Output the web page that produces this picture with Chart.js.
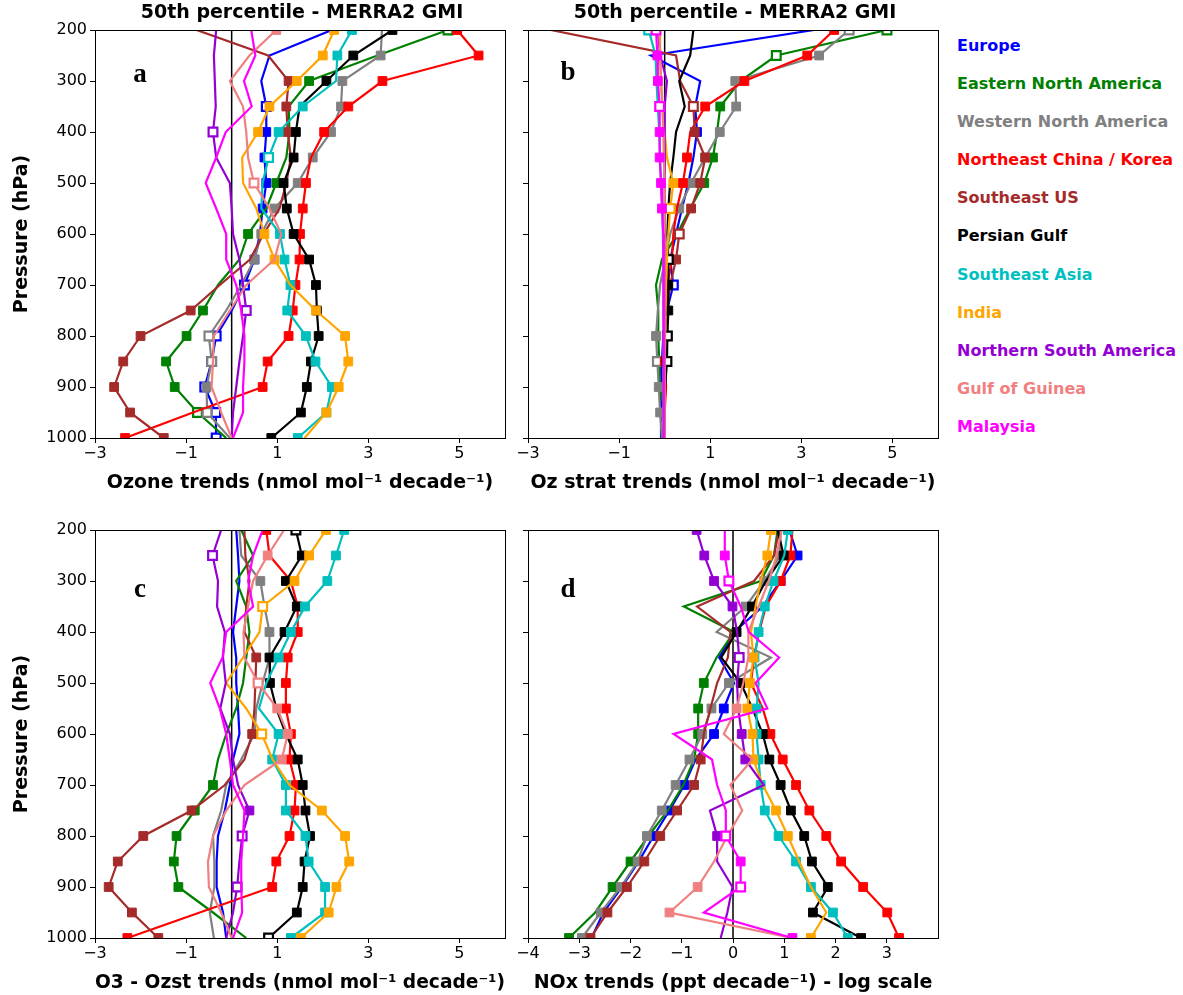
<!DOCTYPE html>
<html>
<head>
<meta charset="utf-8">
<script src="https://cdn.jsdelivr.net/npm/chart.js@4.4.0/dist/chart.umd.min.js"></script>
<style>
  body { margin: 0; background: #fff; }
  #wrap { position: relative; width: 1183px; height: 995px; }
  #wrap canvas { position: absolute; }
  #legend { position: absolute; left: 957px; top: 35px; font: bold 16px "DejaVu Sans", sans-serif; }
  #legend div { height: 38.1px; line-height: 22px; white-space: nowrap; }
</style>
</head>
<body>
<div id="wrap">
  <canvas id="chartA" width="520" height="495" style="left:0px;top:0px"></canvas>
  <canvas id="chartB" width="520" height="495" style="left:433px;top:0px"></canvas>
  <canvas id="chartC" width="520" height="495" style="left:0px;top:500px"></canvas>
  <canvas id="chartD" width="520" height="495" style="left:433px;top:500px"></canvas>
  <div id="legend"></div>
</div>
<script>
// pressure levels (hPa) and axis ticks
const pressureLevels = [200, 250, 300, 350, 400, 450, 500, 550, 600, 650, 700, 750, 800, 850, 900, 950, 1000];
const pressureTicks = [200, 300, 400, 500, 600, 700, 800, 900, 1000];
const trendTicks = [-3, -1, 1, 3, 5];
const noxTicks = [-4, -3, -2, -1, 0, 1, 2, 3];

const regionNames = [
  "Europe", "Eastern North America", "Western North America", "Northeast China / Korea",
  "Southeast US", "Persian Gulf", "Southeast Asia", "India",
  "Northern South America", "Gulf of Guinea", "Malaysia",
];
const regionColors = [
  "#0000ff", "#008000", "#808080", "#ff0000", "#a52a2a", "#000000",
  "#00bfbf", "#ffa500", "#9400d3", "#f08080", "#ff00ff",
];

// rows follow regionNames; marker codes: f = filled square, o = open square, . = none

// (a) ozone trends, nmol/mol per decade
const ozoneTrends = [
  [2.2, 0.83, 0.65, 0.76, 0.76, 0.72, 0.76, 0.68, 0.62, 0.5, 0.28, 0.0, -0.34, -0.44, -0.59, -0.35, -0.34],
  [4.75, 3.2, 1.7, 1.25, 1.27, 1.2, 0.98, 0.76, 0.36, 0.17, -0.3, -0.63, -0.99, -1.44, -1.25, -0.75, -0.12],
  [3.3, 3.27, 2.43, 2.4, 2.18, 1.78, 1.45, 0.94, 0.65, 0.5, 0.21, -0.12, -0.5, -0.44, -0.55, -0.54, -0.04],
  [4.95, 5.42, 3.31, 2.56, 2.03, 1.74, 1.63, 1.56, 1.5, 1.49, 1.4, 1.34, 1.25, 0.79, 0.68, -0.85, -2.34],
  [-0.77, 0.8, 1.25, 1.2, 1.23, 1.3, 1.2, 1.05, 0.7, 0.4, -0.26, -0.9, -2.0, -2.38, -2.58, -2.23, -1.49],
  [3.53, 2.67, 2.08, 1.49, 1.41, 1.36, 1.14, 1.21, 1.36, 1.7, 1.85, 1.87, 1.91, 1.74, 1.65, 1.52, 0.87],
  [2.64, 2.32, 2.29, 1.56, 1.03, 0.81, 0.68, 0.65, 1.06, 1.16, 1.29, 1.22, 1.63, 1.84, 2.2, 2.08, 1.45],
  [2.25, 2.0, 1.43, 0.83, 0.58, 0.23, 0.25, 0.54, 0.72, 0.94, 1.29, 1.85, 2.49, 2.56, 2.35, 2.08, 1.6],
  [-0.34, -0.39, -0.37, -0.35, -0.41, -0.34, -0.04, 0.0, 0.03, 0.17, 0.25, 0.32, 0.25, 0.17, 0.1, 0.03, 0.0],
  [0.98, 0.39, -0.04, 0.25, 0.32, 0.36, 0.49, 0.83, 1.09, 0.94, 0.32, -0.04, -0.39, -0.41, -0.44, -0.23, 0.0],
  [0.43, 0.52, 0.27, 0.44, -0.13, -0.34, -0.57, -0.34, -0.12, -0.12, 0.1, 0.21, 0.28, 0.28, 0.25, 0.25, 0.03],
];
const ozoneMarks = [
  "...offff.fo.ooooo", "o.f...f.f..ffffo.", ".fffffffff..oofo.", "fffff.fffffffff.f",
  "..fff......ffffff", "fff.fffffffffffff", "ff.ffo..fffffffff", "fffff...ff.fffff.",
  "....o......o.....", "f.....o..........", ".................",
];

// (b) stratospheric ozone tracer trends
const stratTrends = [
  [3.28, -0.3, 0.78, 0.67, 0.71, 0.63, 0.52, 0.38, 0.25, 0.12, 0.19, 0.05, -0.03, -0.06, -0.08, -0.08, -0.08],
  [4.88, 2.45, 1.66, 1.22, 1.15, 1.06, 0.87, 0.56, 0.27, -0.06, -0.19, -0.14, -0.14, -0.12, -0.1, 0.0, -0.03],
  [4.05, 3.39, 1.55, 1.57, 1.21, 0.89, 0.58, 0.32, 0.12, 0.01, -0.1, -0.15, -0.19, -0.16, -0.13, -0.1, -0.06],
  [3.72, 3.13, 1.75, 0.89, 0.56, 0.49, 0.4, 0.27, 0.19, 0.16, 0.06, 0.02, 0.0, 0.0, 0.03, 0.0, -0.02],
  [-2.5, 0.25, 0.34, 0.63, 0.66, 0.89, 0.78, 0.58, 0.32, 0.25, 0.12, 0.05, 0.0, -0.02, -0.02, -0.02, -0.02],
  [0.63, 0.56, 0.32, 0.44, 0.25, 0.19, 0.12, 0.08, 0.06, 0.08, 0.08, 0.08, 0.06, 0.05, 0.01, 0.0, 0.0],
  [-0.35, -0.2, -0.18, -0.15, -0.12, -0.1, -0.08, -0.05, -0.04, -0.03, -0.02, -0.02, -0.02, -0.02, -0.02, -0.02, -0.02],
  [-0.1, -0.1, -0.08, -0.05, 0.0, 0.05, 0.19, 0.12, 0.08, 0.05, 0.03, 0.02, 0.01, 0.0, 0.0, 0.0, 0.0],
  [-0.15, -0.1, 0.05, 0.0, 0.0, 0.0, 0.0, 0.0, 0.0, 0.0, 0.0, 0.0, 0.0, 0.0, 0.0, 0.0, 0.0],
  [-0.12, -0.1, -0.08, -0.05, -0.03, -0.02, 0.0, 0.0, 0.0, 0.0, 0.0, 0.0, 0.0, 0.0, 0.0, 0.0, 0.0],
  [-0.19, -0.16, -0.15, -0.11, -0.11, -0.11, -0.08, -0.06, -0.03, -0.02, -0.02, -0.02, -0.02, -0.02, -0.02, -0.02, -0.02],
];
const stratMarks = [
  "....f.....o......", "oo.f.ff......f...", "offfffff....foff.", "ffff.ff......f...",
  "...offffof.......", ".........offoo...", "o................", "......fo.........",
  ".................", ".................", "offoffff.........",
];

// (c) O3 minus stratospheric ozone trends
const residualTrends = [
  [0.1, 0.14, 0.17, 0.1, 0.03, 0.1, 0.1, 0.14, 0.17, 0.03, -0.04, -0.15, -0.3, -0.33, -0.33, -0.19, -0.12],
  [0.21, 0.47, 0.1, 0.32, 0.39, 0.32, 0.25, 0.1, -0.12, -0.3, -0.41, -0.81, -1.21, -1.27, -1.17, -0.41, 0.32],
  [0.17, 0.21, 0.63, 0.72, 0.83, 0.83, 0.68, 0.54, 0.5, 0.21, -0.12, -0.23, -0.41, -0.38, -0.38, -0.48, -0.39],
  [0.76, 0.83, 1.3, 1.45, 1.45, 1.23, 1.19, 1.19, 1.3, 1.27, 1.41, 1.38, 1.27, 0.98, 0.89, -0.7, -2.29],
  [0.28, 0.3, 0.39, 0.32, 0.28, 0.54, 0.52, 0.5, 0.45, 0.28, -0.15, -0.88, -1.94, -2.5, -2.7, -2.19, -1.61],
  [1.41, 1.54, 1.19, 1.43, 1.16, 0.83, 0.84, 0.98, 1.19, 1.45, 1.56, 1.62, 1.72, 1.6, 1.56, 1.43, 0.81],
  [2.47, 2.29, 2.1, 1.61, 1.3, 1.03, 0.76, 0.6, 1.03, 0.89, 1.19, 1.19, 1.62, 1.69, 2.05, 2.05, 1.3],
  [2.07, 1.7, 1.38, 0.68, 0.61, 0.25, -0.12, 0.32, 0.66, 0.9, 1.27, 1.98, 2.49, 2.58, 2.3, 2.13, 1.52],
  [-0.23, -0.42, -0.3, -0.32, -0.15, -0.19, -0.13, -0.25, -0.04, 0.03, 0.14, 0.39, 0.23, 0.17, 0.12, 0.03, -0.12],
  [1.15, 0.79, 0.47, 0.36, 0.26, 0.28, 0.58, 1.0, 1.23, 1.1, 0.28, -0.12, -0.41, -0.52, -0.5, -0.23, 0.0],
  [0.68, 0.47, 0.36, 0.47, -0.12, -0.2, -0.47, -0.26, -0.12, -0.04, 0.03, 0.28, 0.25, 0.21, 0.21, 0.23, 0.03],
];
const residualMarks = [
  ".................", "..........fffff..", "..f.f............", "f..ffffffffffff.f",
  ".....f..f..ffffff", "offffff..fffffffo", "ffffff..fffffffff", "fffo....o..ffffff",
  ".o.........fo.o..", ".f....offf.......", ".................",
];

// (d) NOx trends, ppt per decade (log scale)
const noxTrends = [
  [1.1, 1.26, 0.93, 0.58, 0.02, -0.27, 0.02, -0.18, -0.37, -0.73, -0.95, -1.24, -1.55, -1.84, -2.17, -2.53, -2.76],
  [0.87, 0.8, 0.54, -0.96, 0.02, -0.32, -0.57, -0.68, -0.68, -0.76, -0.97, -1.27, -1.65, -2.0, -2.35, -2.69, -3.2],
  [0.93, 0.92, 0.61, 0.25, -0.32, 0.74, -0.08, -0.42, -0.6, -0.85, -1.12, -1.39, -1.68, -1.86, -2.19, -2.58, -2.95],
  [1.16, 1.12, 0.93, 0.64, 0.51, 0.41, 0.35, 0.58, 0.73, 0.97, 1.23, 1.49, 1.82, 2.11, 2.54, 3.01, 3.24],
  [0.9, 0.8, 0.41, -0.7, -0.05, -0.1, -0.31, -0.44, -0.57, -0.63, -0.76, -1.09, -1.42, -1.73, -2.07, -2.45, -2.78],
  [0.87, 0.99, 0.64, 0.37, 0.07, -0.23, 0.15, 0.38, 0.58, 0.71, 0.93, 1.13, 1.39, 1.54, 1.85, 1.56, 2.5],
  [1.07, 1.0, 0.79, 0.62, 0.5, 0.42, 0.5, 0.46, 0.46, 0.5, 0.54, 0.62, 0.89, 1.23, 1.52, 1.95, 2.24],
  [0.74, 0.67, 0.54, 0.44, 0.35, 0.4, 0.33, 0.28, 0.38, 0.4, 0.58, 0.84, 1.07, 1.29, 1.52, 1.82, 1.52],
  [-0.71, -0.56, -0.37, -0.01, 0.08, 0.12, 0.08, 0.1, 0.17, 0.24, 0.6, -0.45, -0.31, -0.31, -0.01, -0.11, -0.24],
  [0.95, 0.85, 0.7, 0.5, 0.3, 0.3, 0.2, 0.07, -0.18, 0.38, -0.05, 0.18, -0.11, -0.37, -0.69, -1.24, 1.16],
  [-0.16, -0.16, -0.08, 0.15, 0.31, 0.9, 0.44, 0.67, -1.16, -0.41, -0.31, -0.14, -0.14, 0.15, 0.15, -0.57, 1.16],
];
const noxMarks = [
  ".ff....ff.fff....", "......fff....ff.f", ".fff..fffffffffff", ".ff.....fffffffff",
  ".........ffffffff", ".f.ff.f.fffffffff", "f.ffff.ffffffffff", "ff...fffff.ff...f",
  "ffff.o..ff..f....", ".......f......ff.", ".fo.........ofo.f",
];

Chart.defaults.font.family = '"DejaVu Sans", sans-serif';
Chart.defaults.font.size = 16;
Chart.defaults.color = "#000";

// box around the plot area, panel title and panel letter
const framePlugin = {
  id: "frame",
  afterDraw(chart, args, opts) {
    const { ctx, chartArea: area } = chart;
    ctx.save();
    ctx.strokeStyle = "#000";
    ctx.lineWidth = 1;
    ctx.strokeRect(area.left + 0.5, area.top + 0.5, area.right - area.left, area.bottom - area.top);
    ctx.fillStyle = "#000";
    ctx.textAlign = "center";
    ctx.textBaseline = "middle";
    if (opts.title) {
      ctx.font = 'bold 19px "DejaVu Sans", sans-serif';
      ctx.fillText(opts.title, (area.left + area.right) / 2 + 2, area.top - 17);
    }
    ctx.font = 'bold 27px "Liberation Serif", serif';
    ctx.fillText(opts.letter, area.left + opts.dx, area.top + opts.dy);
    ctx.restore();
  },
};

function makeDatasets(values, marks) {
  const sets = values.map((row, i) => {
    const code = marks[i].split("");
    return {
      label: regionNames[i],
      data: row.map((v, k) => ({ x: v, y: pressureLevels[k] })),
      borderColor: regionColors[i],
      borderWidth: 2.2,
      pointStyle: "rect",
      pointRadius: code.map((c) => (c === "." ? 0 : 6.2)),
      pointBackgroundColor: code.map((c) => (c === "o" ? "#fff" : regionColors[i])),
      pointBorderColor: regionColors[i],
      pointBorderWidth: code.map((c) => (c === "o" ? 2.2 : 1)),
      order: values.length - i,
    };
  });
  // zero reference line
  sets.push({
    data: [{ x: 0, y: 200 }, { x: 0, y: 1000 }],
    borderColor: "#000",
    borderWidth: 1.5,
    pointRadius: 0,
    order: 100,
  });
  return sets;
}

function minusSign(v) {
  return String(v).replace("-", "\u2212");
}

function drawPanel(cfg) {
  const ctx = document.getElementById(cfg.id).getContext("2d");
  new Chart(ctx, {
    type: "line",
    data: { datasets: makeDatasets(cfg.values, cfg.marks) },
    options: {
      responsive: false,
      animation: false,
      events: [],
      layout: { padding: { left: 0, top: 30, right: 15, bottom: 0 } },
      plugins: {
        legend: { display: false },
        tooltip: { enabled: false },
        frame: { title: cfg.title, letter: cfg.letter, dx: cfg.letterPos[0], dy: cfg.letterPos[1] },
      },
      scales: {
        x: {
          type: "linear",
          min: cfg.xMin,
          max: cfg.xMax,
          afterBuildTicks: (scale) => {
            scale.ticks = cfg.xTicks.map((v) => ({ value: v }));
          },
          afterFit: (scale) => {
            scale.height = 57;
          },
          ticks: { callback: minusSign, padding: 1, maxRotation: 0, autoSkip: false },
          grid: { drawOnChartArea: false, tickLength: 5, color: "#000" },
          border: { display: false },
          title: {
            display: true,
            text: cfg.xTitle,
            font: { size: 19, weight: "bold" },
            padding: { top: 0, bottom: 1 },
          },
        },
        y: {
          type: "linear",
          reverse: true,
          min: 200,
          max: 1000,
          afterBuildTicks: (scale) => {
            scale.ticks = pressureTicks.map((v) => ({ value: v }));
          },
          afterFit: (scale) => {
            scale.width = 95;
          },
          ticks: { display: cfg.yLabels, padding: 3, callback: (v) => String(v) },
          grid: { drawOnChartArea: false, tickLength: 5, color: "#000" },
          border: { display: false },
          title: {
            display: cfg.yLabels,
            text: "Pressure (hPa)",
            font: { size: 19, weight: "bold" },
            padding: { top: 11, bottom: 0 },
          },
        },
      },
    },
    plugins: [framePlugin],
  });
}

const panels = [
  {
    id: "chartA", letter: "a", letterPos: [45, 45], values: ozoneTrends, marks: ozoneMarks,
    xMin: -3, xMax: 6, xTicks: trendTicks, yLabels: true,
    title: "50th percentile - MERRA2 GMI",
    xTitle: "Ozone trends (nmol mol\u207b\u00b9 decade\u207b\u00b9)",
  },
  {
    id: "chartB", letter: "b", letterPos: [40, 43], values: stratTrends, marks: stratMarks,
    xMin: -3, xMax: 6, xTicks: trendTicks, yLabels: false,
    title: "50th percentile - MERRA2 GMI",
    xTitle: "Oz strat trends (nmol mol\u207b\u00b9 decade\u207b\u00b9)",
  },
  {
    id: "chartC", letter: "c", letterPos: [45, 60], values: residualTrends, marks: residualMarks,
    xMin: -3, xMax: 6, xTicks: trendTicks, yLabels: true,
    title: "",
    xTitle: "O3 - Ozst trends (nmol mol\u207b\u00b9 decade\u207b\u00b9)",
  },
  {
    id: "chartD", letter: "d", letterPos: [40, 60], values: noxTrends, marks: noxMarks,
    xMin: -4, xMax: 4, xTicks: noxTicks, yLabels: false,
    title: "",
    xTitle: "NOx trends (ppt decade\u207b\u00b9) - log scale",
  },
];

panels.forEach(drawPanel);

// text-only legend, coloured by region
const legendBox = document.getElementById("legend");
regionNames.forEach((name, i) => {
  const row = document.createElement("div");
  row.textContent = name;
  row.style.color = regionColors[i];
  legendBox.appendChild(row);
});
</script>
</body>
</html>
